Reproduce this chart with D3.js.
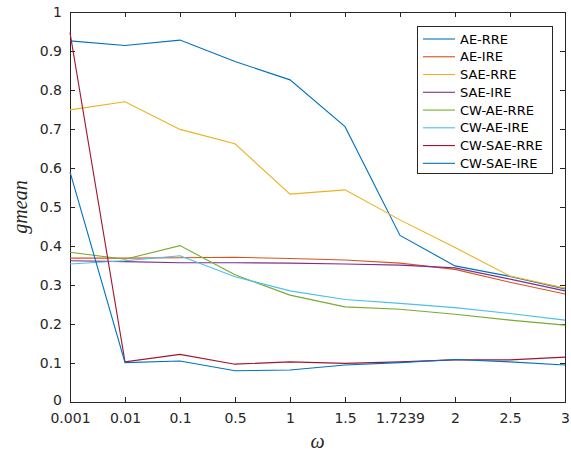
<!DOCTYPE html>
<html><head><meta charset="utf-8">
<script src="https://cdn.jsdelivr.net/npm/d3@7"></script>
<style>body{margin:0;background:#fff}svg{display:block}</style>
</head><body>
<svg id="c" width="571" height="457"></svg>
<script>
const categories = ["0.001","0.01","0.1","0.5","1","1.5","1.7239","2","2.5","3"];
const yTicks = [0,0.1,0.2,0.3,0.4,0.5,0.6,0.7,0.8,0.9,1];
const seriesNames = ["AE-RRE","AE-IRE","SAE-RRE","SAE-IRE","CW-AE-RRE","CW-AE-IRE","CW-SAE-RRE","CW-SAE-IRE"];
const seriesColors = ["#0072BD","#D95319","#EDB120","#7E2F8E","#77AC30","#4DBEEE","#A2142F","#0072BD"];
const aeRRE    = [0.926,0.914,0.928,0.873,0.826,0.706,0.427,0.349,0.322,0.290];
const aeIRE    = [0.369,0.369,0.370,0.371,0.368,0.364,0.356,0.340,0.307,0.277];
const saeRRE   = [0.749,0.770,0.699,0.662,0.533,0.544,0.467,0.396,0.323,0.292];
const saeIRE   = [0.362,0.360,0.357,0.357,0.356,0.354,0.351,0.344,0.315,0.285];
const cwAeRRE  = [0.384,0.366,0.401,0.326,0.274,0.244,0.238,0.225,0.210,0.197];
const cwAeIRE  = [0.354,0.362,0.375,0.321,0.285,0.263,0.253,0.242,0.227,0.210];
const cwSaeRRE = [0.947,0.103,0.122,0.097,0.103,0.099,0.103,0.108,0.108,0.115];
const cwSaeIRE = [0.590,0.101,0.105,0.080,0.082,0.095,0.101,0.109,0.103,0.095];
const seriesValues = [aeRRE,aeIRE,saeRRE,saeIRE,cwAeRRE,cwAeIRE,cwSaeRRE,cwSaeIRE];

const L=70,R=565,T=12,B=402, axisColor="#262626";
const svg=d3.select("#c");
const x=d3.scalePoint().domain(categories).range([L,R]);
const y=d3.scaleLinear().domain([0,1]).range([B,T]);

const font="DejaVu Sans, sans-serif";
// axes
const gx=svg.append("g").attr("transform",`translate(0,${B})`)
  .call(d3.axisBottom(x).tickSize(-5).tickPadding(11));
const gy=svg.append("g").attr("transform",`translate(${L},0)`)
  .call(d3.axisLeft(y).tickValues(yTicks).tickFormat(d3.format("~g")).tickSize(-5).tickPadding(8));
const gt=svg.append("g").attr("transform",`translate(0,${T})`)
  .call(d3.axisTop(x).tickSize(-5).tickFormat(""));
const gr=svg.append("g").attr("transform",`translate(${R},0)`)
  .call(d3.axisRight(y).tickValues(yTicks).tickSize(-5).tickFormat(""));
[gx,gy,gt,gr].forEach(g=>{
  g.select(".domain").attr("stroke",axisColor).attr("stroke-width",1);
  g.selectAll(".tick line").attr("stroke",axisColor);
  g.selectAll(".tick text").attr("fill",axisColor).style("font-family",font).style("font-size","14px");
});
gy.selectAll(".tick text").filter(d=>d===0).attr("dy","0.2em");

// lines
const line=d3.line().x((d,i)=>x(categories[i])).y(d=>y(d));
seriesValues.forEach((vals,k)=>{
  svg.append("path").datum(vals).attr("d",line).attr("fill","none")
    .attr("stroke",seriesColors[k]).attr("stroke-width",1.1);
});

// axis labels
svg.append("text").attr("transform",`translate(27,${(T+B)/2}) rotate(-90)`)
  .attr("text-anchor","middle").attr("fill",axisColor)
  .style("font-family","Liberation Serif, serif").style("font-style","italic").style("font-size","20px")
  .text("gmean");
svg.append("text").attr("x",(L+R)/2).attr("y",448).attr("text-anchor","middle").attr("fill",axisColor)
  .style("font-family","Liberation Serif, serif").style("font-style","italic").style("font-size","20px")
  .text("ω");

// legend
const lg=svg.append("g");
lg.append("rect").attr("x",417.5).attr("y",26.5).attr("width",135).attr("height",147)
  .attr("fill","#fff").attr("stroke",axisColor).attr("stroke-width",1);
seriesNames.forEach((n,k)=>{
  const yy=39+k*17.76;
  lg.append("line").attr("x1",423).attr("x2",455).attr("y1",yy).attr("y2",yy)
    .attr("stroke",seriesColors[k]).attr("stroke-width",1.1);
  lg.append("text").attr("x",460).attr("y",yy).attr("dy","0.36em").attr("fill","#000")
    .style("font-family",font).style("font-size","13px").text(n);
});
</script>
</body></html>
